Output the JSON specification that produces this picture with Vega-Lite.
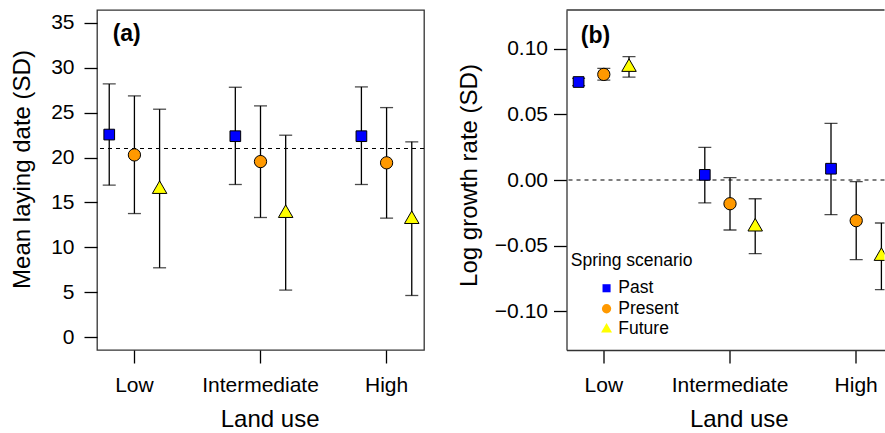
{
  "$schema": "https://vega.github.io/schema/vega-lite/v6.json",
  "autosize": {"type": "pad"},
  "padding": {"left": 9, "top": 9, "right": 0, "bottom": 0},
  "spacing": 30.5,
  "config": {
    "font": "Liberation Sans",
    "view": {"stroke": "#333333", "strokeWidth": 1.3},
    "axis": {
      "labelFont": "Liberation Sans", "titleFont": "Liberation Sans",
      "labelColor": "black", "titleColor": "black", "tickColor": "black",
      "tickWidth": 1.3, "tickSize": 13, "grid": false, "domain": false,
      "labelFontSize": 21, "titleFontSize": 24, "titleFontWeight": "normal"
    }
  },
  "datasets": {
    "a": [
      {"land": "Low", "scenario": "Past", "mean": 22.55, "lo": 16.92, "hi": 28.18},
      {"land": "Low", "scenario": "Present", "mean": 20.29, "lo": 13.77, "hi": 26.85},
      {"land": "Low", "scenario": "Future", "mean": 16.47, "lo": 7.74, "hi": 25.37},
      {"land": "Intermediate", "scenario": "Past", "mean": 22.37, "lo": 17.0, "hi": 27.81},
      {"land": "Intermediate", "scenario": "Present", "mean": 19.55, "lo": 13.33, "hi": 25.74},
      {"land": "Intermediate", "scenario": "Future", "mean": 13.8, "lo": 5.26, "hi": 22.48},
      {"land": "High", "scenario": "Past", "mean": 22.37, "lo": 17.0, "hi": 27.85},
      {"land": "High", "scenario": "Present", "mean": 19.41, "lo": 13.26, "hi": 25.55},
      {"land": "High", "scenario": "Future", "mean": 13.13, "lo": 4.66, "hi": 21.74}
    ],
    "b": [
      {"land": "Low", "scenario": "Past", "mean": 0.0747, "lo": 0.072, "hi": 0.0775},
      {"land": "Low", "scenario": "Present", "mean": 0.0805, "lo": 0.0762, "hi": 0.0851},
      {"land": "Low", "scenario": "Future", "mean": 0.086, "lo": 0.0785, "hi": 0.094},
      {"land": "Intermediate", "scenario": "Past", "mean": 0.0039, "lo": -0.0175, "hi": 0.0249},
      {"land": "Intermediate", "scenario": "Present", "mean": -0.0181, "lo": -0.0381, "hi": 0.0018},
      {"land": "Intermediate", "scenario": "Future", "mean": -0.0357, "lo": -0.0562, "hi": -0.0143},
      {"land": "High", "scenario": "Past", "mean": 0.0086, "lo": -0.0264, "hi": 0.0432},
      {"land": "High", "scenario": "Present", "mean": -0.031, "lo": -0.0607, "hi": -0.0013},
      {"land": "High", "scenario": "Future", "mean": -0.0581, "lo": -0.0836, "hi": -0.0328}
    ]
  },
  "resolve": {
    "scale": {"x": "independent", "y": "independent", "xOffset": "independent", "fill": "independent", "shape": "independent"},
    "legend": {"fill": "independent", "shape": "independent"}
  },
  "hconcat": [
    {
      "width": 327, "height": 340,
      "data": {"name": "a"},
      "layer": [
        {
          "data": {"values": [{}]},
          "mark": {"type": "rule", "strokeDash": [4, 4], "color": "black", "strokeWidth": 1.2},
          "encoding": {"y": {"datum": 21, "type": "quantitative", "title": "Mean laying date (SD)"}}
        },
        {
          "mark": {"type": "rule", "color": "black", "strokeWidth": 1.3},
          "encoding": {
            "x": {"field": "land", "type": "nominal", "sort": ["Low", "Intermediate", "High"], "title": "Land use",
                  "scale": {"paddingInner": 0.4065, "paddingOuter": 0},
                  "axis": {"labelAngle": 0, "labelPadding": 11, "titlePadding": 12, "titleX": 172.6}},
            "xOffset": {"field": "scenario", "type": "nominal", "sort": ["Past", "Present", "Future"], "scale": {"paddingInner": 0.028, "paddingOuter": 0}},
            "y": {"field": "lo", "type": "quantitative", "title": "Mean laying date (SD)",
                  "scale": {"domain": [-1.4, 36.4], "nice": false, "zero": false},
                  "axis": {"values": [0, 5, 10, 15, 20, 25, 30, 35], "labelPadding": 10, "titlePadding": 16, "titleY": 159}},
            "y2": {"field": "hi"}
          }
        },
        {
          "mark": {"type": "tick", "color": "black", "thickness": 1.3, "size": 13},
          "encoding": {
            "x": {"field": "land", "type": "nominal", "sort": ["Low", "Intermediate", "High"], "title": "Land use"},
            "xOffset": {"field": "scenario", "type": "nominal", "sort": ["Past", "Present", "Future"]},
            "y": {"field": "hi", "type": "quantitative", "title": "Mean laying date (SD)"}
          }
        },
        {
          "mark": {"type": "tick", "color": "black", "thickness": 1.3, "size": 13},
          "encoding": {
            "x": {"field": "land", "type": "nominal", "sort": ["Low", "Intermediate", "High"], "title": "Land use"},
            "xOffset": {"field": "scenario", "type": "nominal", "sort": ["Past", "Present", "Future"]},
            "y": {"field": "lo", "type": "quantitative", "title": "Mean laying date (SD)"}
          }
        },
        {
          "mark": {"type": "point", "filled": true, "opacity": 1, "stroke": "black", "strokeWidth": 1, "size": 151},
          "encoding": {
            "x": {"field": "land", "type": "nominal", "sort": ["Low", "Intermediate", "High"], "title": "Land use"},
            "xOffset": {"field": "scenario", "type": "nominal", "sort": ["Past", "Present", "Future"]},
            "y": {"field": "mean", "type": "quantitative", "title": "Mean laying date (SD)"},
            "fill": {"field": "scenario", "type": "nominal", "scale": {"domain": ["Past", "Present", "Future"], "range": ["#0000FF", "#FF9900", "#FFFF00"]}, "legend": null},
            "shape": {"field": "scenario", "type": "nominal", "scale": {"domain": ["Past", "Present", "Future"], "range": ["M-0.87,-0.87H0.87V0.87H-0.87Z", "circle", "M0,-1.363L1.18,0.681L-1.18,0.681Z"]}, "legend": null}
          }
        },
        {
          "data": {"values": [{"label": "(a)"}]},
          "mark": {"type": "text", "align": "center", "baseline": "middle", "fontSize": 23, "fontWeight": "bold", "color": "black", "font": "Liberation Sans", "dx": -7.7},
          "encoding": {
            "x": {"datum": "Low", "type": "nominal"},
            "y": {"datum": 33.73, "type": "quantitative"},
            "text": {"field": "label"}
          }
        }
      ]
    },
    {
      "width": 318, "height": 340,
      "view": {"stroke": null},
      "data": {"name": "b"},
      "layer": [
        {
          "data": {"values": [{}]},
          "mark": {"type": "rule", "strokeDash": [4, 4], "color": "black", "strokeWidth": 1.2},
          "encoding": {"y": {"datum": 0, "type": "quantitative", "title": "Log growth rate (SD)"}}
        },
        {
          "data": {"values": [{}]},
          "mark": {"type": "rule", "color": "#333333", "strokeWidth": 1.3},
          "encoding": {"y": {"datum": 0.1296, "type": "quantitative", "title": "Log growth rate (SD)"}}
        },
        {
          "mark": {"type": "rule", "color": "black", "strokeWidth": 1.3, "clip": true},
          "encoding": {
            "x": {"field": "land", "type": "nominal", "sort": ["Low", "Intermediate", "High"], "title": "Land use",
                  "scale": {"paddingInner": 0.6, "paddingOuter": 0.0599, "align": 0.798},
                  "axis": {"labelAngle": 0, "labelPadding": 11, "titlePadding": 12, "titleX": 172.3, "domain": true, "domainColor": "#333333", "domainWidth": 1.3}},
            "xOffset": {"field": "scenario", "type": "nominal", "sort": ["Past", "Present", "Future"], "scale": {"paddingInner": 0.997, "paddingOuter": 0}},
            "y": {"field": "lo", "type": "quantitative", "title": "Log growth rate (SD)",
                  "scale": {"domain": [-0.1296, 0.1296], "nice": false, "zero": false},
                  "axis": {"values": [-0.1, -0.05, 0, 0.05, 0.1], "format": ".2f", "labelPadding": 6, "titlePadding": 13, "titleY": 165, "domain": true, "domainColor": "#333333", "domainWidth": 1.3}},
            "y2": {"field": "hi"}
          }
        },
        {
          "mark": {"type": "tick", "color": "black", "thickness": 1.3, "size": 13, "clip": true},
          "encoding": {
            "x": {"field": "land", "type": "nominal", "sort": ["Low", "Intermediate", "High"], "title": "Land use"},
            "xOffset": {"field": "scenario", "type": "nominal", "sort": ["Past", "Present", "Future"]},
            "y": {"field": "hi", "type": "quantitative", "title": "Log growth rate (SD)"}
          }
        },
        {
          "mark": {"type": "tick", "color": "black", "thickness": 1.3, "size": 13, "clip": true},
          "encoding": {
            "x": {"field": "land", "type": "nominal", "sort": ["Low", "Intermediate", "High"], "title": "Land use"},
            "xOffset": {"field": "scenario", "type": "nominal", "sort": ["Past", "Present", "Future"]},
            "y": {"field": "lo", "type": "quantitative", "title": "Log growth rate (SD)"}
          }
        },
        {
          "mark": {"type": "point", "filled": true, "opacity": 1, "stroke": "black", "strokeWidth": 1, "size": 151, "clip": true},
          "encoding": {
            "x": {"field": "land", "type": "nominal", "sort": ["Low", "Intermediate", "High"], "title": "Land use"},
            "xOffset": {"field": "scenario", "type": "nominal", "sort": ["Past", "Present", "Future"]},
            "y": {"field": "mean", "type": "quantitative", "title": "Log growth rate (SD)"},
            "fill": {"field": "scenario", "type": "nominal", "sort": ["Past", "Present", "Future"], "scale": {"domain": ["Past", "Present", "Future"], "range": ["#0000FF", "#FF9900", "#FFFF00"]},
                     "legend": {"title": "Spring scenario", "orient": "none", "legendX": 4.3, "legendY": 241.5, "titleFontSize": 17.5, "titleFontWeight": "normal", "titleColor": "black", "titleFont": "Liberation Sans", "labelFont": "Liberation Sans", "labelFontSize": 17.5, "labelColor": "black", "symbolSize": 86, "symbolStrokeColor": "black", "symbolStrokeWidth": 1, "symbolOffset": 27, "labelOffset": 3, "rowPadding": 1.5, "titlePadding": 10.5, "padding": 0}},
            "shape": {"field": "scenario", "type": "nominal", "sort": ["Past", "Present", "Future"], "scale": {"domain": ["Past", "Present", "Future"], "range": ["M-0.87,-0.87H0.87V0.87H-0.87Z", "circle", "M0,-1.363L1.18,0.681L-1.18,0.681Z"]},
                      "legend": {"title": "Spring scenario", "orient": "none", "legendX": 4.3, "legendY": 241.5, "titleFontSize": 17.5, "titleFontWeight": "normal", "titleColor": "black", "titleFont": "Liberation Sans", "labelFont": "Liberation Sans", "labelFontSize": 17.5, "labelColor": "black", "symbolSize": 86, "symbolStrokeColor": "black", "symbolStrokeWidth": 1, "symbolOffset": 27, "labelOffset": 3, "rowPadding": 1.5, "titlePadding": 10.5, "padding": 0}}
          }
        },
        {
          "data": {"values": [{"label": "(b)"}]},
          "mark": {"type": "text", "align": "center", "baseline": "middle", "fontSize": 23, "fontWeight": "bold", "color": "black", "font": "Liberation Sans", "dx": -8.3},
          "encoding": {
            "x": {"datum": "Low", "type": "nominal"},
            "y": {"datum": 0.11, "type": "quantitative"},
            "text": {"field": "label"}
          }
        }
      ]
    }
  ]
}
